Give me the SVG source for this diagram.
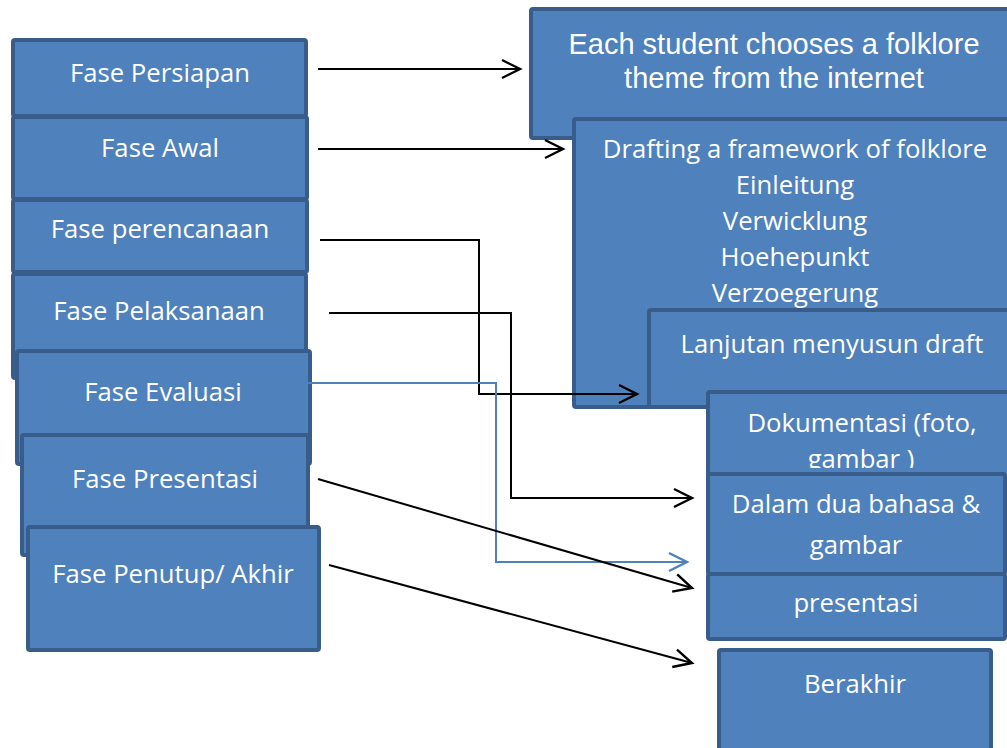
<svg xmlns="http://www.w3.org/2000/svg" width="1007" height="748" viewBox="0 0 1007 748">
<style>
.box{fill:#4F81BD;stroke:#385D8A;stroke-width:4;stroke-linejoin:round}
.t{fill:#FFFFFF;font-family:"Open Sans","DejaVu Sans",sans-serif;font-size:25.7px;text-anchor:middle}
.ta{fill:#FFFFFF;font-family:"Liberation Sans",Arial,sans-serif;font-size:29px;text-anchor:middle}
.c{fill:none;stroke:#000000;stroke-width:2}
.cb{fill:none;stroke:#4F81BD;stroke-width:2}
</style>
<defs>
<marker id="ah" markerUnits="userSpaceOnUse" markerWidth="24" markerHeight="24" refX="20" refY="10" orient="auto" overflow="visible">
<path d="M2,1 L20,10 L2,19" fill="none" stroke="#000000" stroke-width="2.4"/>
</marker>
<marker id="ahb" markerUnits="userSpaceOnUse" markerWidth="24" markerHeight="24" refX="20" refY="10" orient="auto" overflow="visible">
<path d="M2,1 L20,10 L2,19" fill="none" stroke="#4F81BD" stroke-width="2.4"/>
</marker>
<clipPath id="clipDok"><rect x="700" y="380" width="310" height="88"/></clipPath>
</defs>
<rect x="0" y="0" width="1007" height="748" fill="#FFFFFF"/>

<g id="n-persiapan"><rect class="box" x="13" y="40" width="293" height="76" rx="2"/><text class="t" x="160" y="82">Fase Persiapan</text></g>
<g id="n-awal"><rect class="box" x="13" y="117" width="294" height="82" rx="2"/><text class="t" x="160" y="157">Fase Awal</text></g>
<g id="n-perencanaan"><rect class="box" x="13" y="200" width="294" height="72" rx="2"/><text class="t" x="160" y="238">Fase perencanaan</text></g>
<g id="n-pelaksanaan"><rect class="box" x="13" y="274" width="293" height="104" rx="2"/><text class="t" x="159" y="320">Fase Pelaksanaan</text></g>
<g id="n-evaluasi"><rect class="box" x="17" y="351" width="293" height="113" rx="2"/><text class="t" x="163" y="401">Fase Evaluasi</text></g>
<g id="n-presentasi"><rect class="box" x="22" y="435" width="286" height="120" rx="2"/><text class="t" x="165" y="488">Fase Presentasi</text></g>
<g id="n-penutup"><rect class="box" x="28" y="527" width="291" height="123" rx="2"/><text class="t" x="173" y="583">Fase Penutup/ Akhir</text></g>

<g id="n-each"><rect class="box" x="531" y="9" width="490" height="129" rx="2"/><text class="ta" x="774" y="54">Each student chooses a folklore</text><text class="ta" x="774" y="88">theme from the internet</text></g>
<g id="n-drafting"><rect class="box" x="574" y="119" width="450" height="288" rx="2"/>
<text class="t" x="795" y="158">Drafting a framework of folklore</text>
<text class="t" x="795" y="194">Einleitung</text>
<text class="t" x="795" y="230">Verwicklung</text>
<text class="t" x="795" y="266">Hoehepunkt</text>
<text class="t" x="795" y="302">Verzoegerung</text></g>
<g id="n-lanjutan"><rect class="box" x="649" y="310" width="370" height="97" rx="2"/><text class="t" x="832" y="353">Lanjutan menyusun draft</text></g>
<g id="n-dokumentasi"><rect class="box" x="708" y="392" width="310" height="90" rx="2"/><g clip-path="url(#clipDok)"><text class="t" x="862" y="432">Dokumentasi (foto,</text><text class="t" x="861" y="468">gambar )</text></g></g>
<g id="n-dalam"><rect class="box" x="708" y="474" width="297" height="100" rx="2"/><text class="t" x="856" y="513">Dalam dua bahasa &amp;</text><text class="t" x="856" y="554">gambar</text></g>
<g id="n-presentasi2"><rect class="box" x="708" y="574" width="297" height="65" rx="2"/><text class="t" x="856" y="612">presentasi</text></g>
<g id="n-berakhir"><rect class="box" x="719" y="650" width="272" height="110" rx="2"/><text class="t" x="855" y="693">Berakhir</text></g>

<g id="connectors">
<path class="c" d="M318,69 L520,69" marker-end="url(#ah)"/>
<path class="c" d="M318,149 L563,149" marker-end="url(#ah)"/>
<path class="c" d="M320,240 L479,240 L479,394 L637,394" marker-end="url(#ah)"/>
<path class="c" d="M329,313 L511,313 L511,498 L692,498" marker-end="url(#ah)"/>
<path class="cb" d="M307,383 L496,383 L496,562 L687,562" marker-end="url(#ahb)"/>
<path class="c" d="M318,479 L692,588" marker-end="url(#ah)"/>
<path class="c" d="M329,565 L692,663" marker-end="url(#ah)"/>
</g>
</svg>
